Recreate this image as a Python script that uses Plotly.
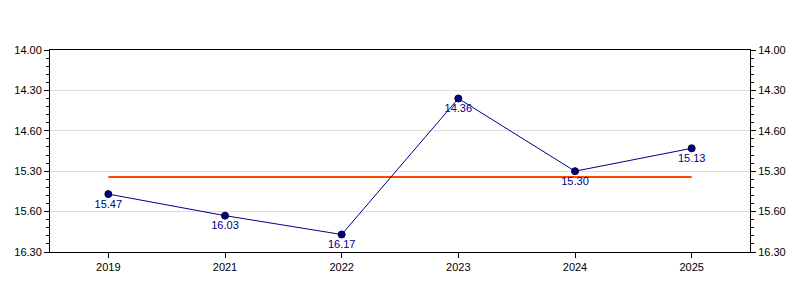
import plotly.graph_objects as go

years = ["2019", "2021", "2022", "2023", "2024", "2025"]
# times in seconds (mm.ss labels)
times_sec = [947, 963, 977, 876, 930, 913]
point_labels = ["15.47", "16.03", "16.17", "14.36", "15.30", "15.13"]
tick_vals = [840, 870, 900, 930, 960, 990]
tick_text = ["14.00", "14.30", "14.60", "15.30", "15.60", "16.30"]

mean_val = sum(times_sec) / len(times_sec)

fig = go.Figure()
fig.add_trace(go.Scatter(
    x=years, y=[mean_val] * len(years), mode="lines",
    line=dict(color="#FF4500", width=2), hoverinfo="skip", showlegend=False))
fig.add_trace(go.Scatter(
    x=years, y=times_sec, mode="lines+markers+text",
    line=dict(color="#00008B", width=1),
    marker=dict(color="#000080", size=7, line=dict(color="#000033", width=1)),
    text=point_labels, textposition="bottom center",
    textfont=dict(color="#00008B", size=11, family="Liberation Sans, Arial"),
    showlegend=False))
fig.add_trace(go.Scatter(
    x=years, y=times_sec, mode="markers", yaxis="y2",
    marker=dict(opacity=0), hoverinfo="skip", showlegend=False))

yax = dict(
    range=[990, 840], tickvals=tick_vals, ticktext=tick_text,
    ticks="outside", ticklen=5, tickcolor="black",
    minor=dict(dtick=6, ticks="outside", ticklen=3, tickcolor="black", showgrid=False),
    showline=True, linecolor="black", linewidth=1,
    tickfont=dict(size=11, color="black", family="Liberation Sans, Arial"),
    zeroline=False,
)
fig.update_layout(
    width=800, height=300,
    margin=dict(l=50, r=50, t=50, b=48),
    plot_bgcolor="white", paper_bgcolor="white",
    xaxis=dict(
        type="category", range=[-0.5, 5.5],
        showline=True, linecolor="black", linewidth=1, mirror=True,
        ticks="outside", ticklen=5, tickcolor="black", showgrid=False,
        tickfont=dict(size=11, color="black", family="Liberation Sans, Arial"),
    ),
    yaxis=dict(**yax, showgrid=True, gridcolor="#DDDDDD", gridwidth=1),
    yaxis2=dict(**yax, overlaying="y", side="right", showgrid=False),
)
fig.write_html("out.html")
